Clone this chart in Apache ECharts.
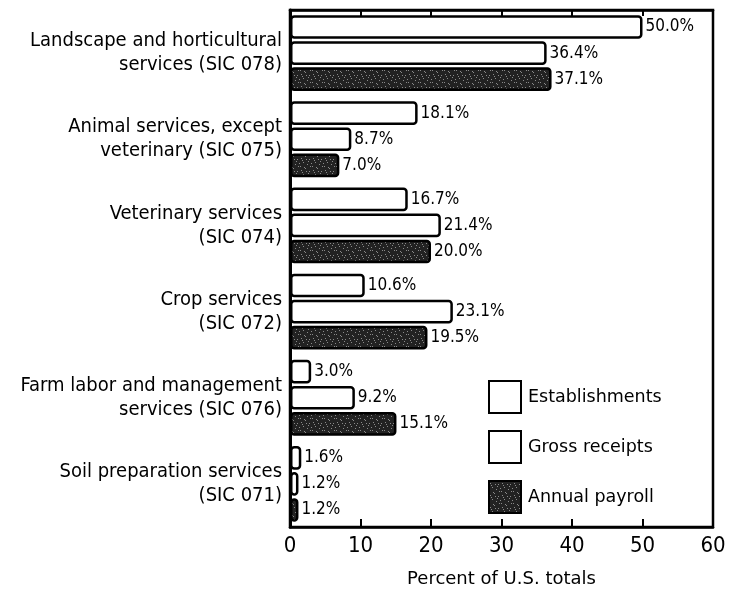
<!DOCTYPE html>
<html>
<head>
<meta charset="utf-8">
<script src="https://cdn.jsdelivr.net/npm/echarts@6/dist/echarts.min.js"></script>
<style>
  html, body { margin: 0; padding: 0; background: #fff; }
  #chart { width: 737px; height: 590px; }
</style>
</head>
<body>
<div id="chart"></div>
<script>
  var categories = [
    'Landscape and horticultural\nservices (SIC 078)',
    'Animal services, except\nveterinary (SIC 075)',
    'Veterinary services\n(SIC 074)',
    'Crop services\n(SIC 072)',
    'Farm labor and management\nservices (SIC 076)',
    'Soil preparation services\n(SIC 071)'
  ];
  var establishments = [50.0, 18.1, 16.7, 10.6, 3.0, 1.6];
  var grossReceipts = [36.4, 8.7, 21.4, 23.1, 9.2, 1.2];
  var annualPayroll = [37.1, 7.0, 20.0, 19.5, 15.1, 1.2];
  var xTicks = [0, 10, 20, 30, 40, 50, 60];

  var cond = '"DejaVu Sans Condensed", "Liberation Sans Narrow", sans-serif';
  var wide = '"DejaVu Sans", "Liberation Sans", sans-serif';

  // stippled dark fill for the payroll bars
  function stipple() {
    var c = document.createElement('canvas');
    c.width = 12; c.height = 12;
    var g = c.getContext('2d');
    g.fillStyle = '#222';
    g.fillRect(0, 0, 12, 12);
    g.fillStyle = '#8a8a8a';
    var pts = [[1,2],[5,0],[9,3],[3,6],[7,8],[11,7],[0,10],[4,11],[8,5],[10,10],[2,4],[6,3]];
    pts.forEach(function (p) { g.fillRect(p[0], p[1], 1, 1); });
    return c;
  }

  var barBase = {
    type: 'bar',
    barGap: '10%',
    barCategoryGap: '12%',
    label: {
      show: true,
      position: 'right',
      distance: 3,
      color: '#000',
      fontFamily: cond,
      fontSize: 17,
      formatter: function (p) { return p.value.toFixed(1) + '%'; }
    }
  };

  function mk(name, data, fill) {
    return Object.assign({}, barBase, {
      name: name,
      data: data,
      itemStyle: { color: fill, borderColor: '#000', borderWidth: 2.5, borderRadius: 3 }
    });
  }

  var chart = echarts.init(document.getElementById('chart'));
  chart.setOption({
    animation: false,
    grid: {
      left: 290, right: 24, top: 10, bottom: 63,
      outerBoundsMode: 'none', containLabel: false,
      show: true, borderColor: '#000', borderWidth: 2.5
    },
    legend: {
      orient: 'vertical',
      left: 483,
      top: 375,
      icon: 'rect',
      itemWidth: 32,
      itemHeight: 32,
      itemGap: 16,
      textStyle: { fontFamily: wide, fontSize: 17.5, color: '#000', padding: [0, 0, 0, 2] },
      data: ['Establishments', 'Gross receipts', 'Annual payroll']
    },
    xAxis: [
      {
        type: 'value', min: 0, max: 60, interval: 10,
        name: 'Percent of U.S. totals', nameLocation: 'middle', nameGap: 43,
        nameTextStyle: { fontFamily: wide, fontSize: 18, color: '#000' },
        axisLine: { show: true, lineStyle: { color: '#000', width: 2.5 } },
        axisTick: { show: true, inside: true, length: 8, lineStyle: { color: '#000', width: 2 } },
        axisLabel: {
          fontFamily: cond, fontSize: 22, color: '#000', margin: 8,
          formatter: function (v) { return xTicks.indexOf(v) >= 0 ? String(v) : ''; }
        },
        splitLine: { show: false }
      },
      {
        type: 'value', position: 'top', min: 0, max: 60, interval: 10,
        axisLine: { show: true, lineStyle: { color: '#000', width: 2.5 } },
        axisTick: { show: true, inside: true, length: 6, lineStyle: { color: '#000', width: 2 } },
        axisLabel: { show: false },
        splitLine: { show: false }
      }
    ],
    yAxis: {
      type: 'category',
      inverse: true,
      data: categories,
      axisLine: { show: true, lineStyle: { color: '#000', width: 3 } },
      axisTick: { show: false },
      axisLabel: {
        fontFamily: cond, fontSize: 20, color: '#000', lineHeight: 24,
        align: 'right', margin: 8
      }
    },
    series: [
      mk('Establishments', establishments, '#fff'),
      mk('Gross receipts', grossReceipts, '#fff'),
      mk('Annual payroll', annualPayroll, { image: stipple(), repeat: 'repeat' })
    ]
  });
</script>
</body>
</html>
